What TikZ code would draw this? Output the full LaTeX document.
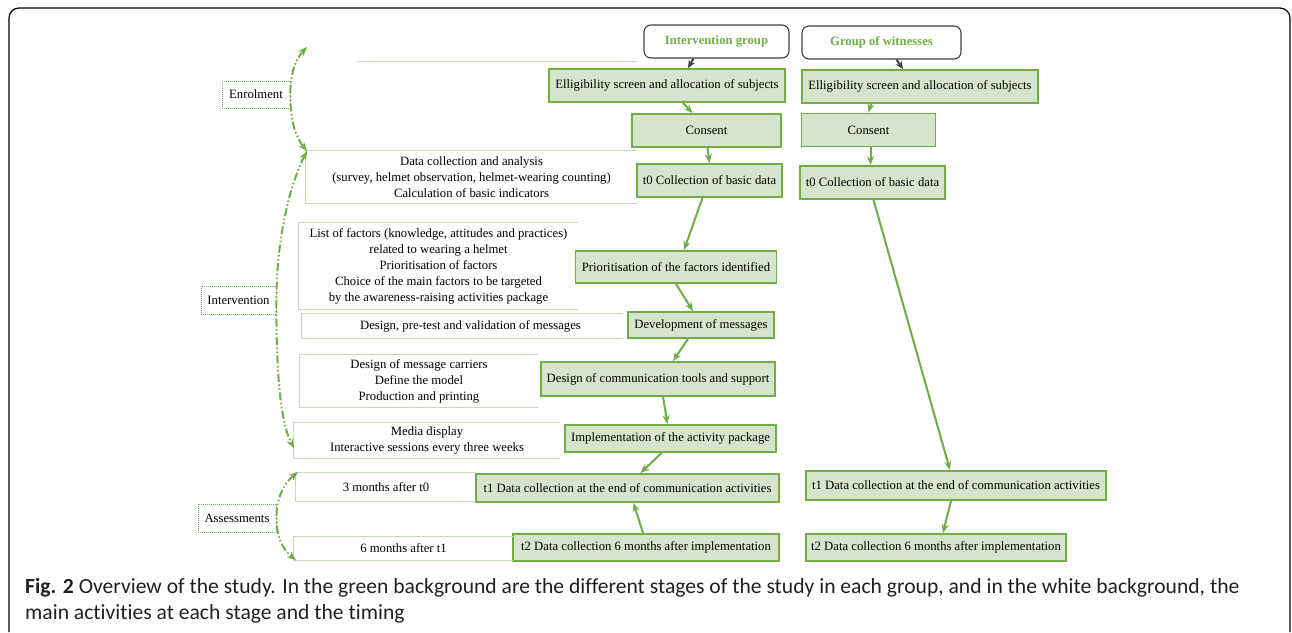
\documentclass[tikz,border=0pt]{standalone}
\usepackage{fontspec}
\setmainfont{Liberation Serif}
\newfontfamily\capfont[Ligatures=NoCommon]{Carlito}
\usetikzlibrary{arrows.meta}
\definecolor{stagegreen}{RGB}{112,173,71}
\definecolor{stagefill}{RGB}{214,228,206}
\definecolor{notegreen}{RGB}{200,218,190}
\definecolor{headgray}{RGB}{64,64,64}
\definecolor{capgray}{RGB}{35,31,32}

\begin{document}
\begin{tikzpicture}[x=1pt,y=-1pt,font=\fontsize{12.7}{16}\selectfont,
    stage/.style={draw=stagegreen,fill=stagefill,line width=1.8pt,inner sep=0pt},
    group/.style={draw=headgray,rounded corners=7pt,line width=1.1pt,inner sep=0pt,
      text=stagegreen,font=\fontsize{12.7}{16}\selectfont\bfseries},
    note/.style={inner sep=0pt,align=center},
    noteline/.style={draw=notegreen,line width=0.9pt},
    phase/.style={draw=stagegreen,densely dotted,line width=1pt,inner sep=0pt},
    flow/.style={draw=stagegreen,line width=2pt,-{Stealth[length=9pt,width=7pt]}},
    headflow/.style={draw=headgray,line width=2pt,-{Stealth[length=8pt,width=7pt]}},
    span/.style={draw=stagegreen,line width=2pt,
      dash pattern=on 8pt off 2.5pt on 1.5pt off 2.5pt on 1.5pt off 2.5pt,
      {Stealth[length=9pt,width=7pt]}-{Stealth[length=9pt,width=7pt]}}]
  \useasboundingbox (0,0) rectangle (1292,632);
  % frame
  \draw[line width=1.2pt,rounded corners=10pt] (9,632) -- (9,8) -- (1290,8) -- (1290,632);

  % group headers
  \node[group,minimum width=145pt,minimum height=33pt] (ig) at (716.5,41.5) {Intervention group};
  \node[group,minimum width=159pt,minimum height=33pt] (wg) at (881.5,42.5) {Group of witnesses};

  % intervention group stages
  \node[stage,minimum width=236pt,minimum height=33pt] (elig) at (667,85.5) {Elligibility screen and allocation of subjects};
  \node[stage,minimum width=149pt,minimum height=33pt] (cons) at (706.5,130.5) {Consent};
  \node[stage,minimum width=145pt,minimum height=33pt] (t0) at (709.5,180.5) {t0 Collection of basic data};
  \node[stage,minimum width=201pt,minimum height=32pt] (prior) at (676,267) {Prioritisation of the factors identified};
  \node[stage,minimum width=146pt,minimum height=26pt] (dev) at (701,325) {Development of messages};
  \node[stage,minimum width=234pt,minimum height=34pt] (comm) at (658,379) {Design of communication tools and support};
  \node[stage,minimum width=211pt,minimum height=27pt] (impl) at (670.5,438.5) {Implementation of the activity package};
  \node[stage,minimum width=303pt,minimum height=28pt] (t1) at (627.5,488) {t1 Data collection at the end of communication activities};
  \node[stage,minimum width=266pt,minimum height=27pt] (t2) at (646,547.5) {t2 Data collection 6 months after implementation};

  % group of witnesses stages
  \node[stage,minimum width=236pt,minimum height=33pt] (welig) at (920,86.5) {Elligibility screen and allocation of subjects};
  \node[stage,minimum width=134pt,minimum height=33pt] (wcons) at (868.5,130) {Consent};
  \node[stage,minimum width=145pt,minimum height=33pt] (wt0) at (872.5,182.5) {t0 Collection of basic data};
  \node[stage,minimum width=300pt,minimum height=29pt] (wt1) at (956,485.5) {t1 Data collection at the end of communication activities};
  \node[stage,minimum width=260pt,minimum height=27pt] (wt2) at (936,547.5) {t2 Data collection 6 months after implementation};

  % activities
  \node[note,minimum width=331pt,minimum height=52pt] (data) at (471.5,177) {Data collection and analysis\\(survey, helmet observation, helmet-wearing counting)\\Calculation of basic indicators};
  \node[note,minimum width=279pt,minimum height=86pt] (fact) at (438.5,266) {List of factors (knowledge, attitudes and practices)\\related to wearing a helmet\\Prioritisation of factors\\Choice of the main factors to be targeted\\by the awareness-raising activities package};
  \node[note,minimum width=321pt,minimum height=24pt] (msg) at (462.5,326) {\hspace{16pt}Design, pre-test and validation of messages};
  \node[note,minimum width=238pt,minimum height=52pt] (carr) at (419,381) {Design of message carriers\\Define the model\\Production and printing};
  \node[note,minimum width=266pt,minimum height=35pt] (media) at (427,440.5) {Media display\\Interactive sessions every three weeks};
  \node[note,minimum width=180pt,minimum height=28pt] (three) at (386,487) {3 months after t0};
  \node[note,minimum width=219pt,minimum height=23pt] (six) at (403.5,548.5) {6 months after t1};
  \foreach \n in {data,fact,msg,carr,media,three,six}
    \draw[noteline] (\n.north east) -- (\n.north west) -- (\n.south west) -- (\n.south east);
  \coordinate (topl) at (357,61);
  \coordinate (topr) at (637,61);
  \draw[noteline] (topl) -- (topr);

  % phases
  \node[phase,minimum width=68pt,minimum height=27pt] (enrol) at (256,94.5) {Enrolment};
  \node[phase,minimum width=75pt,minimum height=28pt] (interv) at (238.5,300) {Intervention};
  \node[phase,minimum width=78pt,minimum height=28pt] (assess) at (237,518) {Assessments};
  \coordinate (etop) at (307,47);
  \coordinate (ebot) at (307,151);
  \coordinate (itop) at (307,151);
  \coordinate (ibot) at (294,448);
  \coordinate (atop) at (298,472);
  \coordinate (abot) at (296,560);
  \draw[span] (etop) .. controls (293,62) and (290,80) .. (enrol.east) .. controls (290,112) and (293,134) .. (ebot);
  \draw[span] (itop) .. controls (287,190) and (276,250) .. (interv.east) .. controls (276,360) and (279,420) .. (ibot);
  \draw[span] (atop) .. controls (283,484) and (276,500) .. (assess.east) .. controls (276,536) and (283,550) .. (abot);

  % flow
  \draw[headflow] ([xshift=-23pt]ig.south) -- ([xshift=21pt]elig.north);
  \draw[headflow] ([xshift=15pt]wg.south) -- ([xshift=-17pt]welig.north);
  \draw[flow] ([xshift=16pt]elig.south) -- ([xshift=-14pt]cons.north);
  \draw[flow] ([xshift=1pt]cons.south) -- (t0.north);
  \draw[flow] ([xshift=-7pt]t0.south) -- ([xshift=8pt]prior.north);
  \draw[flow] (prior.south) -- ([xshift=-8pt]dev.north);
  \draw[flow] ([xshift=-13pt]dev.south) -- ([xshift=15pt]comm.north);
  \draw[flow] ([xshift=5pt]comm.south) -- ([xshift=-3pt]impl.north);
  \draw[flow] ([xshift=-9pt]impl.south) -- ([xshift=13pt]t1.north);
  \draw[flow] ([xshift=-3pt]t2.north) -- ([xshift=6pt]t1.south);
  \draw[flow] ([xshift=-49pt]welig.south) -- (wcons.north);
  \draw[flow] ([xshift=2pt]wcons.south) -- ([xshift=-2pt]wt0.north);
  \draw[flow] ([xshift=1pt]wt0.south) -- ([xshift=-6pt]wt1.north);
  \draw[flow] ([xshift=-5pt]wt1.south) -- ([xshift=7pt]wt2.north);

  % caption
  \node[anchor=north west,align=left,inner sep=0pt,text=capgray,
    font=\capfont\fontsize{21.6}{26}\selectfont] (cap) at (25,578)
    {\textbf{Fig. 2} Overview of the study. In the green background are the different stages of the study in each group, and in the white background, the\\main activities at each stage and the timing};
\end{tikzpicture}
\end{document}
